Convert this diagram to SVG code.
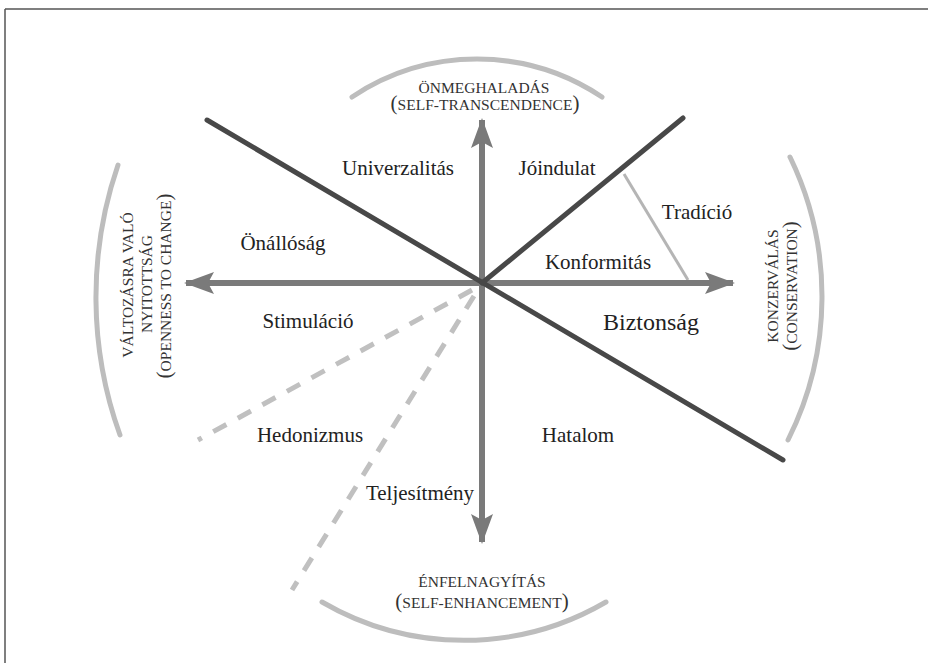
<svg xmlns="http://www.w3.org/2000/svg" width="928" height="663" viewBox="0 0 928 663">
<defs>
<style>
.lbl{font-family:"Liberation Serif","Times New Roman",serif;font-size:21px;fill:#222;text-anchor:middle}
.cap{font-family:"Liberation Serif","Times New Roman",serif;font-size:15.5px;fill:#333;text-anchor:middle}
.par{font-size:21px}
.axis{stroke:#7a7a7a;stroke-width:6;fill:none}
.dark{stroke:#484848;stroke-width:5;fill:none;stroke-linecap:round}
.thin{stroke:#b5b5b5;stroke-width:3;fill:none}
.dash{stroke:#c0c0c0;stroke-width:5;fill:none;stroke-dasharray:15 13}
.arc{stroke:#bdbdbd;stroke-width:5;fill:none;stroke-linecap:round}
</style>
<marker id="ah" viewBox="0 0 30 22" refX="28" refY="11" markerWidth="30" markerHeight="22" markerUnits="userSpaceOnUse" orient="auto">
<polygon points="0,0 30,11 0,22 6,11" fill="#7a7a7a"/>
</marker>
</defs>
<rect width="928" height="663" fill="#fff"/>
<g id="frame">
<line x1="5" y1="9" x2="928" y2="9" stroke="#555" stroke-width="1.5"/>
<line x1="5" y1="9" x2="5" y2="663" stroke="#555" stroke-width="1.5"/>
</g>
<g id="arcs">
<path class="arc" d="M352,97 A225,225 0 0 1 602,97"/>
<path class="arc" d="M322,602 A282,282 0 0 0 606,602"/>
<path class="arc" d="M118,165 A407,407 0 0 0 120,435"/>
<path class="arc" d="M790,157 A320,320 0 0 1 788,440"/>
</g>
<g id="connectors">
<line class="dash" x1="472" y1="290" x2="198" y2="440"/>
<line class="dash" x1="474" y1="296" x2="292" y2="590"/>
<line class="thin" x1="624" y1="174" x2="688" y2="280"/>
<line class="axis" x1="482" y1="283" x2="186" y2="283" marker-end="url(#ah)"/>
<line class="axis" x1="482" y1="283" x2="733" y2="283" marker-end="url(#ah)"/>
<line class="axis" x1="482" y1="283" x2="482" y2="120" marker-end="url(#ah)"/>
<line class="axis" x1="482" y1="283" x2="482" y2="542" marker-end="url(#ah)"/>
<line class="dark" x1="207" y1="120" x2="783" y2="460"/>
<line class="dark" x1="482" y1="283" x2="683" y2="118"/>
</g>
<g id="univerzalitas"><text class="lbl" x="398" y="175">Univerzalitás</text></g>
<g id="joindulat"><text class="lbl" x="557" y="175">Jóindulat</text></g>
<g id="tradicio"><text class="lbl" x="697" y="219">Tradíció</text></g>
<g id="onallosag"><text class="lbl" x="283" y="250">Önállóság</text></g>
<g id="konformitas"><text class="lbl" x="598" y="269">Konformitás</text></g>
<g id="stimulacio"><text class="lbl" x="308" y="328">Stimuláció</text></g>
<g id="biztonsag"><text class="lbl" x="651" y="330" style="font-size:24px">Biztonság</text></g>
<g id="hedonizmus"><text class="lbl" x="310" y="442">Hedonizmus</text></g>
<g id="hatalom"><text class="lbl" x="578" y="442">Hatalom</text></g>
<g id="teljesitmeny"><text class="lbl" x="420" y="500">Teljesítmény</text></g>
<g id="onmeghaladas">
<text class="cap" x="484" y="93">ÖNMEGHALADÁS</text>
<text class="cap" x="485" y="110"><tspan class="par">(</tspan>SELF-TRANSCENDENCE<tspan class="par">)</tspan></text>
</g>
<g id="enfelnagyitas">
<text class="cap" x="482" y="587">ÉNFELNAGYÍTÁS</text>
<text class="cap" x="482" y="608"><tspan class="par">(</tspan>SELF-ENHANCEMENT<tspan class="par">)</tspan></text>
</g>
<g id="valtozasra">
<text class="cap" transform="translate(133,285) rotate(-90)">VÁLTOZÁSRA VALÓ</text>
<text class="cap" transform="translate(152,284) rotate(-90)">NYITOTTSÁG</text>
<text class="cap" transform="translate(171,286) rotate(-90)"><tspan class="par">(</tspan>OPENNESS TO CHANGE<tspan class="par">)</tspan></text>
</g>
<g id="konzervalas">
<text class="cap" transform="translate(778,286) rotate(-90)">KONZERVÁLÁS</text>
<text class="cap" transform="translate(797,286) rotate(-90)"><tspan class="par">(</tspan>CONSERVATION<tspan class="par">)</tspan></text>
</g>
</svg>
